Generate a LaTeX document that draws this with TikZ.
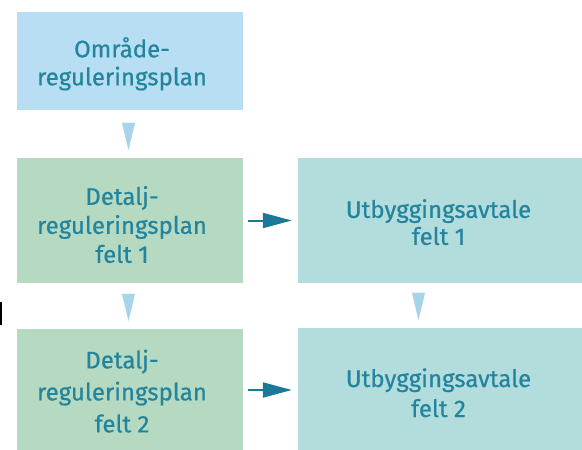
\documentclass[tikz,border=0pt]{standalone}
\usepackage{fontspec}
\setmainfont{Fira Sans}[FakeBold=0.6]
\usetikzlibrary{arrows.meta,calc}
\definecolor{blueBox}{HTML}{B7DEF3}
\definecolor{greenBox}{HTML}{B6D9C1}
\definecolor{cyanBox}{HTML}{B3DCDD}
\definecolor{txt}{HTML}{23849D}
\definecolor{tri}{HTML}{A7D4E8}
\definecolor{arr}{HTML}{1C7898}
% #1 left shift, #2 vertical raise, #3 lines
\newcommand{\boxlines}[3]{\raisebox{#2}[\height][\depth]{\hspace*{-#1}\begin{tabular}{@{}c@{}}#3\end{tabular}\hspace*{#1}}}
\begin{document}
\begin{tikzpicture}[x=1pt,y=-1pt,
  box/.style={rectangle, draw=none, inner sep=0pt, text=txt},
  fs/.style={font=\fontsize{24}{#1}\selectfont},
  downtri/.style={draw=tri, line width=0.1pt, shorten <=13pt, shorten >=8pt,
    -{Triangle[length=27pt,width=13pt,fill=tri]}},
  rightarr/.style={draw=arr, line width=2pt, shorten <=5pt, shorten >=6pt,
    -{Triangle[length=29pt,width=15pt,fill=arr]}}]
\useasboundingbox (0,0) rectangle (582,450);
\fill[white] (0,0) rectangle (582,450);
\node[box, fs=28, fill=blueBox, minimum width=226pt, minimum height=98pt] (top) at (130,61)
  {\boxlines{8pt}{-4.5pt}{Område-\\reguleringsplan}};
\node[box, fs=29, fill=greenBox, minimum width=226pt, minimum height=125pt] (d1) at (130,220.5)
  {\boxlines{8pt}{-7.5pt}{Detalj-\\reguleringsplan\\felt 1}};
\node[box, fs=32, fill=greenBox, minimum width=226pt, minimum height=121pt] (d2) at (130,389.5)
  {\boxlines{8pt}{-4.5pt}{Detalj-\\reguleringsplan\\felt 2}};
\node[box, fs=27, fill=cyanBox, minimum width=284pt, minimum height=125pt] (u1) at (440,220.5)
  {\boxlines{1.5pt}{-5.5pt}{Utbyggingsavtale\\felt 1}};
\node[box, fs=30, fill=cyanBox, minimum width=284pt, minimum height=122pt] (u2) at (440,389)
  {\boxlines{1.5pt}{-7pt}{Utbyggingsavtale\\felt 2}};
\draw[downtri] ($(top.south)+(-1.5,0)$) -- ($(d1.north)+(-1.5,0)$);
\draw[downtri] ($(d1.south)+(-1.5,0)$) -- ($(d2.north)+(-1.5,0)$);
\draw[downtri] ($(u1.south)+(-21.5,0)$) -- ($(u2.north)+(-21.5,0)$);
\draw[rightarr] (d1.east) -- (u1.west);
\draw[rightarr] ($(d2.east)+(0,0.5)$) -- ($(u2.west)+(0,1)$);
\fill[black] (0,302) rectangle (2,325);
\end{tikzpicture}
\end{document}
